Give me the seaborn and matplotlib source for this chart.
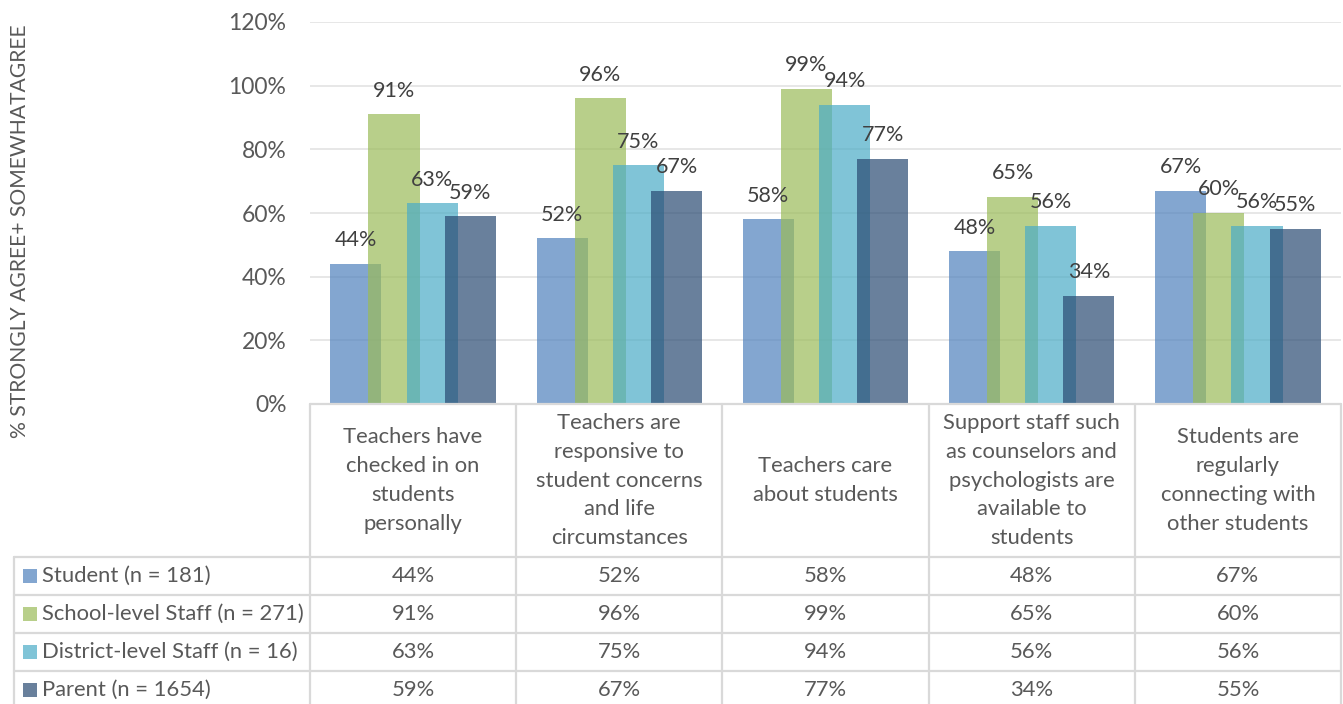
import matplotlib
matplotlib.use('Agg')

import matplotlib.pyplot as plt
import numpy as np
import seaborn as sns

# data
categories = [
    'Teachers have\nchecked in on\nstudents\npersonally',
    'Teachers are\nresponsive to\nstudent concerns\nand life\ncircumstances',
    'Teachers care\nabout students',
    'Support staff such\nas counselors and\npsychologists are\navailable to\nstudents',
    'Students are\nregularly\nconnecting with\nother students',
]
series_names = ['Student (n = 181)', 'School-level Staff (n = 271)',
                'District-level Staff (n = 16)', 'Parent (n = 1654)']
student = [0.44, 0.52, 0.58, 0.48, 0.67]
school_staff = [0.91, 0.96, 0.99, 0.65, 0.60]
district_staff = [0.63, 0.75, 0.94, 0.56, 0.56]
parent = [0.59, 0.67, 0.77, 0.34, 0.55]
series_values = [student, school_staff, district_staff, parent]
series_colors = ['#4F81BD', '#9BBB59', '#4BACC6', '#2A4A72']
y_ticks = [0, 0.2, 0.4, 0.6, 0.8, 1.0, 1.2]

sns.set_style('white')
plt.rcParams['font.family'] = ['Lato', 'DejaVu Sans']

W, H = 1343, 704
fig = plt.figure(figsize=(W / 100, H / 100), dpi=100)

# plot area: x 310..1341 px, y 22..404 px
px_l, px_r, px_t, px_b = 310, 1341, 22, 404
ax = fig.add_axes([px_l / W, 1 - px_b / H, (px_r - px_l) / W, (px_b - px_t) / H])

bar_w = 0.248
step = 0.185
idx = np.arange(len(categories))
text_col = '#404040'
tick_col = '#595959'
grid_col = '#E3E3E3'
line_col = '#D9D9D9'
fs = 15.8

for k, (vals, col) in enumerate(zip(series_values, series_colors)):
    xs = idx + (k - 1.5) * step
    sns.barplot(x=xs, y=vals, native_scale=True, width=bar_w, color=col,
                saturation=1, alpha=0.7, linewidth=0, ax=ax, zorder=2 + k)
    for x, v in zip(xs, vals):
        ax.annotate('{:.0f}%'.format(v * 100), (x, v), xytext=(0, 17),
                    textcoords='offset points', ha='center', va='center',
                    fontsize=15.5, color=text_col, zorder=10)

ax.set_xlim(-0.5, len(categories) - 0.5)
ax.set_ylim(0, 1.2)
ax.set_yticks(y_ticks)
ax.set_yticklabels(['{:.0f}%'.format(t * 100) for t in y_ticks])
ax.tick_params(axis='y', length=0, pad=17, labelsize=16.5, labelcolor=tick_col)
ax.set_xticks([])
ax.set_xlabel('')
ax.set_ylabel('')
ax.grid(axis='y', color=grid_col, lw=1.2)
ax.set_axisbelow(True)
for s in ['left', 'right', 'top', 'bottom']:
    ax.spines[s].set_visible(False)

fig.text(20 / W, 1 - 231 / H, '% STRONGLY AGREE+ SOMEWHATAGREE', rotation=90,
         ha='center', va='center', fontsize=15.2, color=tick_col)

# data table under the plot, sharing the category positions
tab_l = 14
unit = (px_r - px_l) / len(categories)
x_left = -0.5 - (px_l - tab_l) / unit
tab_bottom = 710
tab = fig.add_axes([tab_l / W, 1 - tab_bottom / H, (px_r - tab_l) / W,
                    (tab_bottom - px_b) / H])
tab.set_xlim(x_left, len(categories) - 0.5)
tab.set_ylim(tab_bottom, px_b)
tab.axis('off')

head_bottom = 557
row_h = 38
row_tops = [head_bottom + i * row_h for i in range(len(series_names))]
lw = 1.6

tab.plot([-0.5, len(categories) - 0.5], [px_b, px_b], color=line_col, lw=lw, clip_on=False)
for yt in row_tops:
    tab.plot([x_left, len(categories) - 0.5], [yt, yt], color=line_col, lw=lw, clip_on=False)
tab.plot([x_left, x_left], [head_bottom, tab_bottom], color=line_col, lw=lw, clip_on=False)
for xe in np.arange(len(categories) + 1) - 0.5:
    tab.plot([xe, xe], [px_b, tab_bottom], color=line_col, lw=lw, clip_on=False)

for i, cat in enumerate(categories):
    tab.text(i, (px_b + head_bottom) / 2, cat, ha='center', va='center',
             fontsize=fs, color=tick_col, linespacing=1.56)

for r, (name, vals, col) in enumerate(zip(series_names, series_values, series_colors)):
    yc = row_tops[r] + row_h / 2
    tab.plot([x_left + 16 / unit], [yc], marker='s', markersize=10, color=col,
             alpha=0.7, markeredgewidth=0, clip_on=False)
    tab.text(x_left + 28 / unit, yc, name, ha='left', va='center',
             fontsize=fs, color=tick_col)
    for i, v in enumerate(vals):
        tab.text(i, yc, '{:.0f}%'.format(v * 100), ha='center', va='center',
                 fontsize=fs, color=tick_col)

fig.savefig('out.png', dpi=100)
plt.close()
